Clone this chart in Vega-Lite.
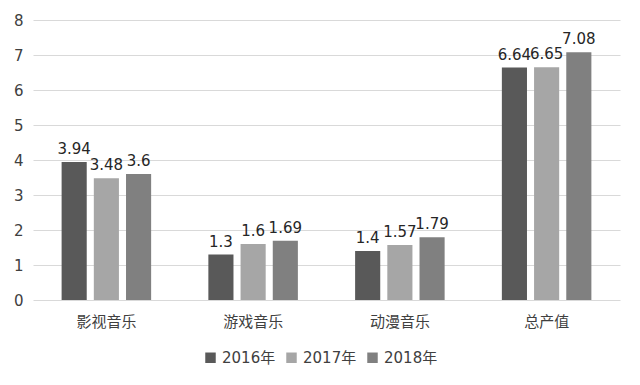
{
  "$schema": "https://vega.github.io/schema/vega-lite/v6.json",
  "width": 587,
  "height": 280,
  "autosize": {"type": "none"},
  "padding": {"left": 33, "top": 20, "right": 20, "bottom": 85},
  "background": "white",
  "config": {
    "view": {"stroke": null},
    "font": "DejaVu Sans, Noto Sans CJK SC",
    "axis": {"labelFont": "DejaVu Sans, Noto Sans CJK SC", "labelColor": "#404040"},
    "legend": {"labelFont": "DejaVu Sans, Noto Sans CJK SC", "labelColor": "#404040"}
  },
  "data": {
    "values": [
      {"cat": "影视音乐", "year": "2016年", "v": 3.94},
      {"cat": "影视音乐", "year": "2017年", "v": 3.48},
      {"cat": "影视音乐", "year": "2018年", "v": 3.6},
      {"cat": "游戏音乐", "year": "2016年", "v": 1.3},
      {"cat": "游戏音乐", "year": "2017年", "v": 1.6},
      {"cat": "游戏音乐", "year": "2018年", "v": 1.69},
      {"cat": "动漫音乐", "year": "2016年", "v": 1.4},
      {"cat": "动漫音乐", "year": "2017年", "v": 1.57},
      {"cat": "动漫音乐", "year": "2018年", "v": 1.79},
      {"cat": "总产值", "year": "2016年", "v": 6.64},
      {"cat": "总产值", "year": "2017年", "v": 6.65},
      {"cat": "总产值", "year": "2018年", "v": 7.08}
    ]
  },
  "encoding": {
    "x": {
      "field": "cat", "type": "nominal", "sort": null, "title": null,
      "scale": {"paddingInner": 0.39, "paddingOuter": 0.195},
      "axis": {"labelAngle": 0, "ticks": false, "domain": false, "labelFontSize": 15, "labelPadding": 14, "labelColor": "#404040"}
    },
    "xOffset": {"field": "year", "type": "nominal", "sort": null, "scale": {"paddingInner": 0.22, "paddingOuter": 0}},
    "y": {
      "field": "v", "type": "quantitative", "title": null,
      "scale": {"domain": [0, 8], "nice": false},
      "axis": {"values": [0, 1, 2, 3, 4, 5, 6, 7, 8], "labelOverlap": false, "ticks": false, "domain": false, "gridColor": "#d9d9d9", "gridWidth": 1, "labelFontSize": 15, "labelPadding": 10, "labelColor": "#404040"}
    }
  },
  "layer": [
    {
      "mark": {"type": "bar"},
      "encoding": {
        "color": {
          "field": "year", "type": "nominal", "sort": null, "title": null,
          "scale": {"domain": ["2016年", "2017年", "2018年"], "range": ["#595959", "#a6a6a6", "#808080"]},
          "legend": {
            "orient": "none", "legendX": 170, "legendY": 330, "direction": "horizontal",
            "symbolType": "square", "symbolSize": 110, "labelFontSize": 15, "columnPadding": 8, "symbolOffset": 0, "labelOffset": 4
          }
        }
      }
    },
    {
      "mark": {"type": "text", "dy": -5, "fontSize": 15, "color": "#262626", "baseline": "bottom"},
      "encoding": {"text": {"field": "v", "type": "quantitative"}}
    }
  ]
}
